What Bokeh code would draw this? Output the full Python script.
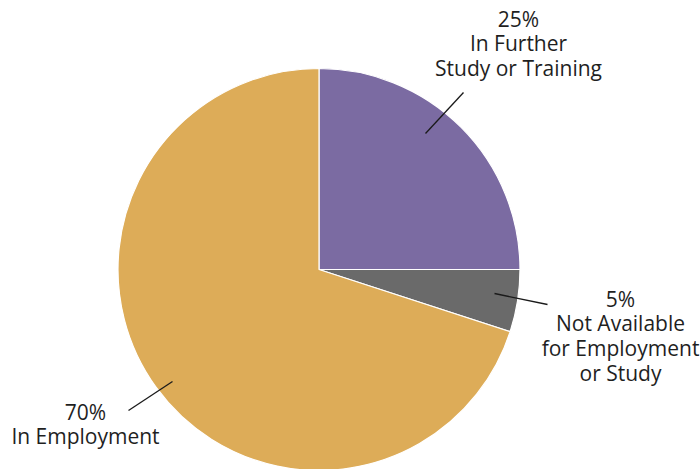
import math
from bokeh.plotting import figure
from bokeh.models import Range1d, ColumnDataSource
from bokeh.core.properties import value
from bokeh.embed import file_html
from bokeh.resources import INLINE

# Data
categories = ["In Further Study or Training", "Not Available for Employment or Study", "In Employment"]
percents = [25, 5, 70]
label_texts = ["25%\nIn Further\nStudy or Training",
               "5%\nNot Available\nfor Employment\nor Study",
               "70%\nIn Employment"]
colors = ["#7B6BA2", "#6A6A6A", "#DDAC58"]

W, H = 700, 469
p = figure(width=W, height=H, output_backend="svg", toolbar_location=None,
           x_range=Range1d(0, W), y_range=Range1d(0, H), min_border=0)
p.axis.visible = False
p.grid.visible = False
p.outline_line_color = None
p.background_fill_color = "white"

def Y(py):
    return H - py

cx, cy, r = 318.5, Y(269), 201
total = sum(percents)
starts, ends = [], []
a = math.pi / 2
for v in percents:
    starts.append(a)
    a -= v / total * 2 * math.pi
    ends.append(a)

src = ColumnDataSource(dict(start=starts, end=ends, color=colors, cat=categories))
p.wedge(x=cx, y=cy, radius=r, start_angle="end", end_angle="start", direction="anticlock",
        fill_color="color", line_color="white", line_width=1.2, source=src)

# leader lines (pixel coords)
leaders = [((463, 92), (425, 133)), ((494, 293), (547, 304)), ((128, 410), (172, 381))]
for (x0, y0), (x1, y1) in leaders:
    p.line([x0, x1], [Y(y0), Y(y1)], line_color="#1a1a1a", line_width=1.3)

# label positions: centre x and first-line centre y (pixels), line spacing
label_pos = [(518, 18), (620, 298), (85, 411)]
spacing = 24.7
xs, ys, ts = [], [], []
for (lx, ly), t in zip(label_pos, label_texts):
    for i, line in enumerate(t.split("\n")):
        xs.append(lx)
        ys.append(Y(ly + i * spacing))
        ts.append(line)
p.text(x=xs, y=ys, text=ts, text_align="center", text_baseline="middle",
       text_font=value("Open Sans"), text_font_size="21px", text_color="#1f1f1f")

open("out.html", "w").write(file_html(p, INLINE))
